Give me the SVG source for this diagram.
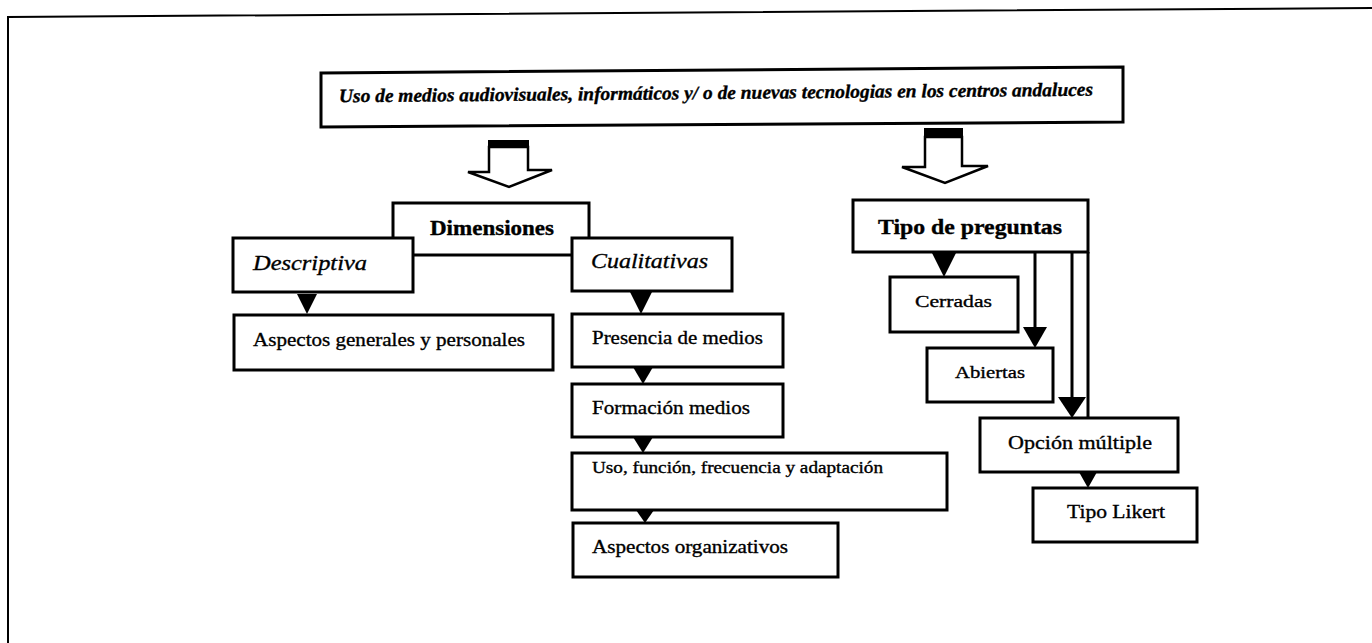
<svg xmlns="http://www.w3.org/2000/svg" width="1372" height="643" viewBox="0 0 1372 643">
<style>
.box{fill:#fff;stroke:#000;stroke-width:3}
.t{font-family:"Liberation Serif","Times New Roman",serif;fill:#000;stroke:#000;stroke-width:0.35}
.b{font-weight:bold}
.i{font-style:italic}
.ln{stroke:#000;stroke-width:3;fill:none}
.tri{fill:#000;stroke:none}
.hollow{fill:#fff;stroke:#000;stroke-width:2.5;stroke-linejoin:miter}
</style>
<rect width="1372" height="643" fill="#fff"/>
<g id="frame">
<polyline points="8,643 8,17 1372,8" fill="none" stroke="#000" stroke-width="2"/>
</g>
<g id="node-title">
<polygon class="box" points="321,73 1123,67 1123,122 321,127"/>
<text class="t b i" x="339" y="99" font-size="19" textLength="754" lengthAdjust="spacingAndGlyphs" transform="rotate(-0.5 716 95)">Uso de medios audiovisuales, informáticos y/ o de nuevas tecnologias en los centros andaluces</text>
</g>
<g id="node-dimensiones">
<rect class="box" x="393" y="203" width="196" height="52"/>
<text class="t b" x="430" y="235" font-size="20" textLength="124" lengthAdjust="spacingAndGlyphs">Dimensiones</text>
</g>
<g id="node-descriptiva">
<rect class="box" x="233" y="238" width="180" height="54"/>
<text class="t i" x="253" y="270" font-size="21" textLength="114" lengthAdjust="spacingAndGlyphs">Descriptiva</text>
</g>
<g id="node-cualitativas">
<rect class="box" x="572" y="238" width="160" height="53"/>
<text class="t i" x="591" y="268" font-size="21" textLength="117" lengthAdjust="spacingAndGlyphs">Cualitativas</text>
</g>
<g id="node-aspectos-generales">
<rect class="box" x="234" y="315" width="319" height="55"/>
<text class="t" x="253" y="346" font-size="19" textLength="272" lengthAdjust="spacingAndGlyphs">Aspectos generales y personales</text>
</g>
<g id="node-presencia">
<rect class="box" x="572" y="314" width="211" height="53"/>
<text class="t" x="592" y="344" font-size="19" textLength="171" lengthAdjust="spacingAndGlyphs">Presencia de medios</text>
</g>
<g id="node-formacion">
<rect class="box" x="572" y="384" width="211" height="53"/>
<text class="t" x="592" y="414" font-size="19" textLength="158" lengthAdjust="spacingAndGlyphs">Formación medios</text>
</g>
<g id="node-uso">
<rect class="box" x="572" y="453" width="375" height="57"/>
<text class="t" x="592" y="473" font-size="16" textLength="291" lengthAdjust="spacingAndGlyphs">Uso, función, frecuencia y  adaptación</text>
</g>
<g id="node-aspectos-organizativos">
<rect class="box" x="573" y="523" width="265" height="54"/>
<text class="t" x="592" y="553" font-size="18" textLength="196" lengthAdjust="spacingAndGlyphs">Aspectos organizativos</text>
</g>
<g id="node-tipo-preguntas">
<rect class="box" x="853" y="200" width="235" height="52"/>
<text class="t b" x="878" y="234" font-size="20" textLength="184" lengthAdjust="spacingAndGlyphs">Tipo de preguntas</text>
</g>
<g id="node-cerradas">
<rect class="box" x="890" y="277" width="128" height="55"/>
<text class="t" x="915" y="307" font-size="17" textLength="77" lengthAdjust="spacingAndGlyphs">Cerradas</text>
</g>
<g id="node-abiertas">
<rect class="box" x="927" y="348" width="126" height="54"/>
<text class="t" x="955" y="378" font-size="17" textLength="70" lengthAdjust="spacingAndGlyphs">Abiertas</text>
</g>
<g id="node-opcion">
<rect class="box" x="980" y="418" width="198" height="54"/>
<text class="t" x="1008" y="449" font-size="19" textLength="144" lengthAdjust="spacingAndGlyphs">Opción múltiple</text>
</g>
<g id="node-likert">
<rect class="box" x="1033" y="488" width="164" height="54"/>
<text class="t" x="1067" y="518" font-size="19" textLength="98" lengthAdjust="spacingAndGlyphs">Tipo Likert</text>
</g>
<g id="connectors">
<polygon class="hollow" points="489,147 528,147 528,170 552,170 509,187 468,172 489,172"/>
<rect x="488" y="140" width="41" height="8" fill="#000"/>
<polygon class="hollow" points="925,137 962,137 962,166 988,166 945,183 902,167 925,167"/>
<rect x="924" y="128" width="39" height="10" fill="#000"/>
<polygon class="tri" points="297,294 317,294 307,314"/>
<polygon class="tri" points="630,292 652,292 641,314"/>
<polygon class="tri" points="633,367 653,367 643,384"/>
<polygon class="tri" points="633,437 653,437 643,453"/>
<polygon class="tri" points="636,510 654,510 645,523"/>
<polygon class="tri" points="932,253 956,253 944,277"/>
<line class="ln" x1="1035" y1="252" x2="1035" y2="330"/>
<polygon class="tri" points="1023,327 1047,327 1035,348"/>
<line class="ln" x1="1072" y1="252" x2="1072" y2="400"/>
<polygon class="tri" points="1058,397 1086,397 1072,418"/>
<line class="ln" x1="1088" y1="252" x2="1088" y2="418"/>
<polygon class="tri" points="1079,472 1097,472 1088,488"/>
</g>
</svg>
